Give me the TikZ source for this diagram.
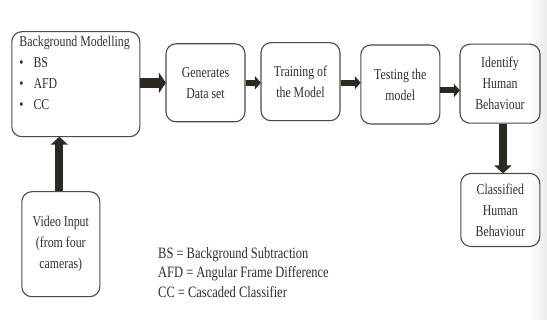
\documentclass[tikz,border=0pt]{standalone}
\usepackage{fontspec}
\setmainfont{Liberation Serif}[FakeStretch=0.79]
\usepackage{tikz}
\usetikzlibrary{positioning}
\usetikzlibrary{arrows.meta}

\definecolor{boxline}{HTML}{4A4A48}
\definecolor{arrowcol}{HTML}{2B2922}
\definecolor{textcol}{HTML}{2E2E2E}

\tikzset{
  stagebox/.style={draw=boxline, line width=1.1pt, rounded corners=10pt,
    align=center, text=textcol, font=\fontsize{15}{21}\selectfont, inner sep=2pt},
  flowarrow/.style={draw=arrowcol, line width=6pt,
    -{Triangle[length=6pt,width=13pt]}, shorten >=-0.5pt},
  bigarrow/.style={flowarrow, line width=10pt,
    -{Triangle[length=7pt,width=20pt]}},
  uparrow/.style={flowarrow, line width=8pt,
    -{Triangle[length=8pt,width=17pt]}}
}

\begin{document}
\begin{tikzpicture}[x=1pt,y=-1pt]

  \useasboundingbox (0,0) rectangle (547,320);
  % soft grey edge of the slide
  \shade[left color=white, right color=black!8] (527,0) rectangle (547,320);

  \node[stagebox, minimum width=128, minimum height=105] (bgm) at (75.8,84.2) {};
  \node[anchor=north west, align=left, inner sep=0pt, text=textcol,
    font=\fontsize{15}{21}\selectfont] (bgmtext) at ([shift={(8,5)}]bgm.north west)
    {Background Modelling\\
     •\hspace{10pt}BS\\
     •\hspace{10pt}AFD\\
     •\hspace{10pt}CC};

  \node[stagebox, minimum width=79, minimum height=78] (gen) at (205.5,82.8) {Generates\\Data set};
  \node[stagebox, minimum width=79, minimum height=78] (train) at (300.5,81.7) {Training of\\the Model};
  \node[stagebox, minimum width=79, minimum height=79] (test) at (400.3,84.5) {Testing the\\model};
  \node[stagebox, minimum width=80, minimum height=79] (ident) at (500,83.7) {Identify\\Human\\Behaviour};

  \node[stagebox, minimum width=79, minimum height=73] (classed) at (500.3,210) {Classified\\Human\\Behaviour};
  \node[stagebox, minimum width=78, minimum height=105] (video) at (60.8,244.2) {Video Input\\(from four\\cameras)};

  % abbreviations
  \node[anchor=north west, align=left, inner sep=0pt, text=textcol,
    font=\fontsize{15.8}{19.5}\selectfont] (legend) at (158,247)
    {BS = Background Subtraction\\
     AFD = Angular Frame Difference\\
     CC = Cascaded Classifier};

  \draw[bigarrow] (bgm.east |- gen.west) -- (gen.west);
  \draw[flowarrow] (gen.east) -- (gen.east -| train.west);
  \draw[flowarrow] ([yshift=-1pt]train.east) -- ([yshift=-1pt]train.east -| test.west);
  \draw[flowarrow] ([yshift=-6pt]test.east) -- ([yshift=-6pt]test.east -| ident.west);
  \draw[uparrow] ([xshift=-1.5pt]video.north) -- ([xshift=-1.5pt]video.north |- bgm.south);
  \draw[uparrow] ([xshift=3pt]ident.south) -- ([xshift=3pt]ident.south |- classed.north);

\end{tikzpicture}
\end{document}
